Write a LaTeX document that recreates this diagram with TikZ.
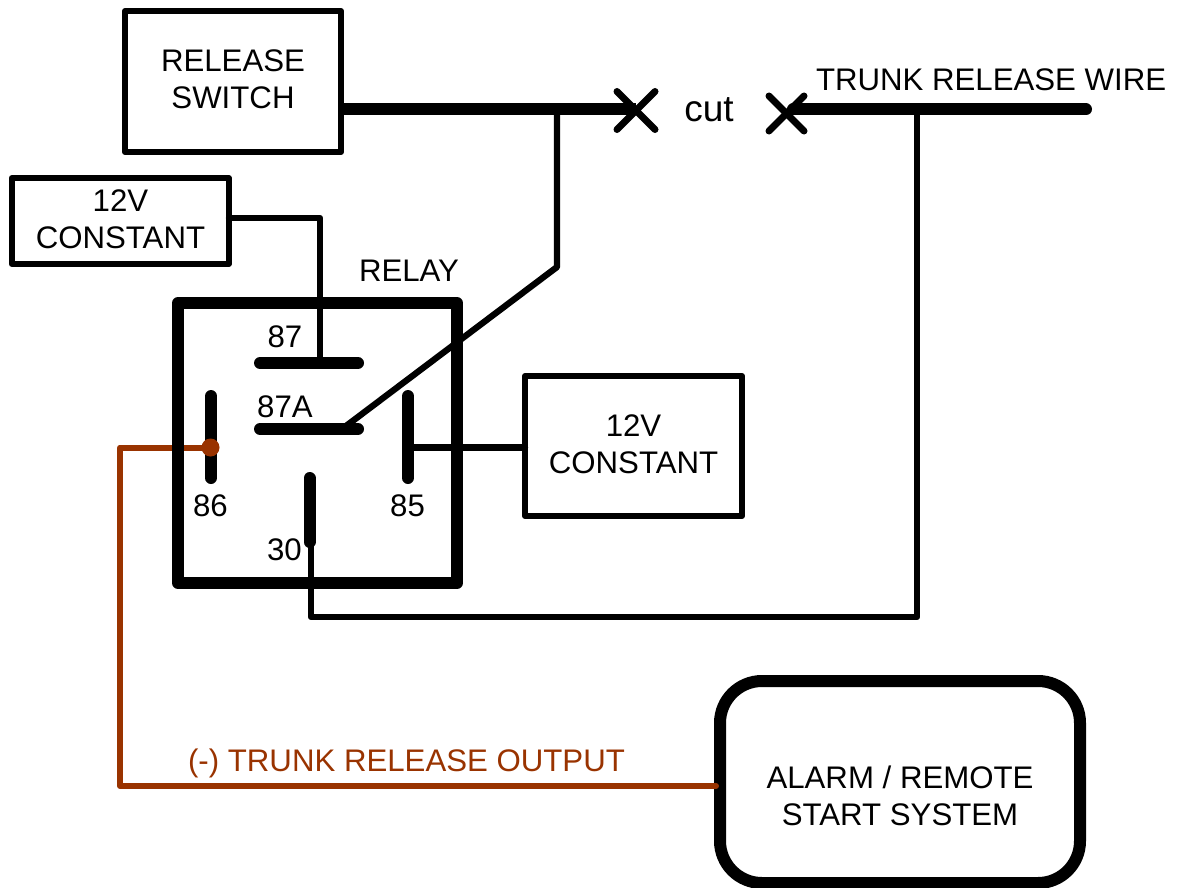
\documentclass[tikz,border=0pt]{standalone}
\usepackage{fontspec}
\setmainfont{Liberation Sans}
\definecolor{wireorange}{HTML}{993300}
\tikzset{
  txt/.style={inner sep=0pt,outer sep=0pt,align=center,font=\fontsize{31.2}{37}\selectfont},
  boxtxt/.style={inner sep=0pt,outer sep=0pt,align=center,font=\fontsize{31.2}{37}\selectfont},
  boxthin/.style={draw=black,line width=6pt,line join=round,inner sep=0pt,outer sep=0pt},
  relaybox/.style={draw=black,line width=12pt,line join=round,inner sep=0pt,outer sep=0pt,minimum width=279pt,minimum height=280pt},
  alarmbox/.style={draw=black,line width=12pt,rounded corners=42pt,inner sep=0pt,outer sep=0pt,minimum width=360pt,minimum height=202pt},
  heavy/.style={line width=12pt,line cap=round,line join=round},
  wire/.style={line width=6.3pt,line cap=round,line join=round},
  cross/.style={line width=7pt,line cap=round},
  brown/.style={line width=6pt,line cap=round,line join=round,draw=wireorange},
}
\begin{document}
\begin{tikzpicture}[x=1pt,y=-1pt]
\useasboundingbox (0,0) rectangle (1177,888);
% boxes
\node[boxthin,minimum width=216pt,minimum height=141pt] (sw) at (233,81.5) {};
\node[boxthin,minimum width=217.5pt,minimum height=85.5pt] (cs) at (120.25,221) {};
\node[boxthin,minimum width=217pt,minimum height=140pt] (cb) at (633.5,446) {};
\node[alarmbox] (al) at (900,782) {};
\node[boxtxt] (swt) at (233,79) {RELEASE\\SWITCH};
\node[boxtxt] (cst) at (120.5,219.5) {12V\\CONSTANT};
\node[boxtxt] (cbt) at (633.5,444) {12V\\CONSTANT};
\node[boxtxt] (alt) at (900,795.5) {ALARM / REMOTE\\START SYSTEM};
% named points
\coordinate (xa) at (636,110.5);
\coordinate (xb) at (786.5,113.5);
\coordinate (wa) at (636,109.5);
\coordinate (wb) at (793,109.5);
\coordinate (j1) at (557,109.5);
\coordinate (j2) at (917,109.5);
\coordinate (wend) at (1086,109.5);
\coordinate (bend1) at (557,267);
\coordinate (p87) at (320,362);
\coordinate (p87a) at (342,429);
\coordinate (p85) at (408,447.5);
\coordinate (p30) at (311,545);
\coordinate (p86) at (210.5,447.5);
\coordinate (alin) at (716,786);
% brown wire beneath the relay border
\draw[brown] (alin) -- (120,786) -- (120,447.5) -- (p86);
% relay
\node[relaybox] (rl) at (317.5,443) {};
% relay pins
\draw[heavy] (260,363) -- (358,363);
\draw[heavy] (260,429) -- (358,429);
\draw[heavy] (211,396) -- (211,478);
\draw[heavy] (408,396) -- (408,478);
\draw[heavy] (309.5,478) -- (309.5,542);
% wires
\draw[line width=12pt] (sw.east |- wa) -- (wa);
\draw[heavy] (wb) -- (wend);
\draw[wire] (j1) -- (bend1) -- (p87a);
\draw[wire] (cs.east |- 0,218) -- (320,218) -- (p87);
\draw[wire] (p85) -- (p85 -| cb.west);
\draw[wire] (p30) -- (311,617) -- (917,617) -- (j2);
% cuts
\draw[cross] (xa) ++(-19,-19) -- ++(38,38);
\draw[cross] (xa) ++(19,-19) -- ++(-38,38);
\draw[cross] (xb) ++(-17.5,-17.5) -- ++(35,35);
\draw[cross] (xb) ++(17.5,-17.5) -- ++(-35,35);
% dot
\fill[wireorange] (p86) circle (9pt);
% labels
\node[txt] (t1) at (409,271) {RELAY};
\node[txt] (t2) at (285,337) {87};
\node[txt] (t3) at (285,407) {87A};
\node[txt] (t4) at (210.5,506) {86};
\node[txt] (t5) at (407.5,506) {85};
\node[txt] (t6) at (284.5,550) {30};
\node[txt,font=\fontsize{37}{37}\selectfont] (t7) at (709,110) {cut};
\node[txt,anchor=west] (t8) at (816,80) {TRUNK RELEASE WIRE};
\node[txt,text=wireorange] (t9) at (406.5,763) {(-) TRUNK RELEASE OUTPUT};
\end{tikzpicture}
\end{document}
